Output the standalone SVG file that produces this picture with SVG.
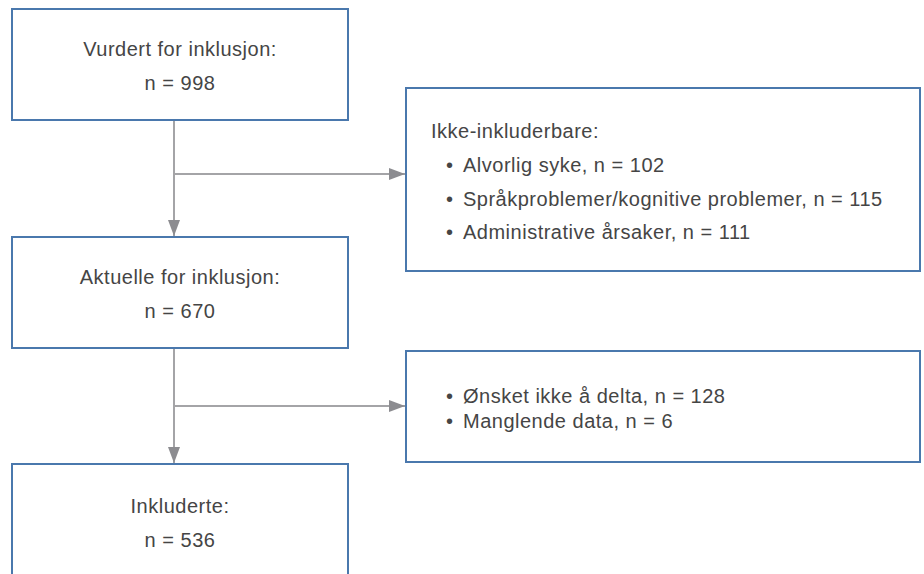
<svg xmlns="http://www.w3.org/2000/svg" width="924" height="574" viewBox="0 0 924 574">
<style>
.box{fill:#fff;stroke:#4a78ad;stroke-width:2}
.t{font-family:"Liberation Sans",Arial,sans-serif;font-size:20px;letter-spacing:0.5px;fill:#454545}
.c{text-anchor:middle}
.ln{fill:none;stroke:#a4a4a7;stroke-width:2}
</style>
<defs>
<marker id="ah" markerWidth="16" markerHeight="12" refX="16" refY="6" orient="auto" markerUnits="userSpaceOnUse">
<path d="M0,0 L16,6 L0,12 Z" fill="#8c8c90"/>
</marker>
</defs>
<rect width="924" height="574" fill="#fff"/>
<g id="connectors">
<path class="ln" d="M174,120 V236" marker-end="url(#ah)"/>
<path class="ln" d="M174,174 H405" marker-end="url(#ah)"/>
<path class="ln" d="M174,348 V463" marker-end="url(#ah)"/>
<path class="ln" d="M174,406 H405" marker-end="url(#ah)"/>
</g>
<g id="n1">
<rect class="box" x="12" y="9" width="336" height="111"/>
<text class="t c" x="180" y="56">Vurdert for inklusjon:</text>
<text class="t c" x="180" y="90">n = 998</text>
</g>
<g id="n2">
<rect class="box" x="12" y="237" width="336" height="111"/>
<text class="t c" x="180" y="284">Aktuelle for inklusjon:</text>
<text class="t c" x="180" y="318">n = 670</text>
</g>
<g id="n3">
<rect class="box" x="12" y="464" width="336" height="120"/>
<text class="t c" x="180" y="513">Inkluderte:</text>
<text class="t c" x="180" y="547">n = 536</text>
</g>
<g id="r1">
<rect class="box" x="406" y="88" width="514" height="183"/>
<text class="t" x="431" y="138">Ikke-inkluderbare:</text>
<text class="t" x="446" y="172">•</text><text class="t" x="463" y="172">Alvorlig syke, n = 102</text>
<text class="t" x="446" y="206">•</text><text class="t" x="463" y="206">Språkproblemer/kognitive problemer, n = 115</text>
<text class="t" x="446" y="239">•</text><text class="t" x="463" y="239">Administrative årsaker, n = 111</text>
</g>
<g id="r2">
<rect class="box" x="406" y="351" width="514" height="111"/>
<text class="t" x="446" y="403">•</text><text class="t" x="463" y="403">Ønsket ikke å delta, n = 128</text>
<text class="t" x="446" y="428">•</text><text class="t" x="463" y="428">Manglende data, n = 6</text>
</g>
</svg>
